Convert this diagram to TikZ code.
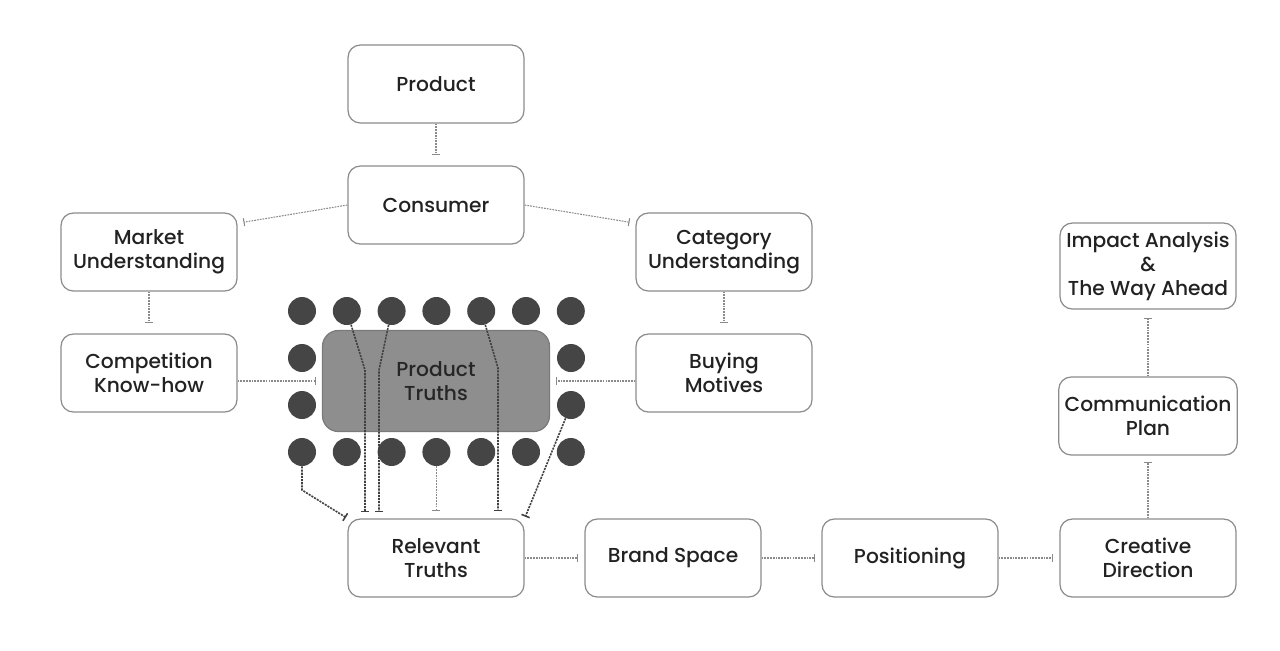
\documentclass[tikz,border=0pt]{standalone}
\usepackage{fontspec}
\setmainfont{Poppins}[UprightFont=* Medium]
\usetikzlibrary{arrows.meta}
\definecolor{boxline}{HTML}{8C8C8C}
\definecolor{textdark}{HTML}{222222}
\definecolor{dotgrey}{HTML}{454545}
\definecolor{truthfill}{HTML}{8E8E8E}
\definecolor{truthline}{HTML}{7A7A7A}
\definecolor{linkgrey}{HTML}{8A8A8A}
\tikzset{
  box/.style={draw=boxline, line width=0.7pt, rounded corners=7pt, minimum width=3.52cm,
    minimum height=1.56cm, align=center, text=textdark, font=\fontsize{11.5}{13.7}\selectfont},
  dot/.style={circle, fill=dotgrey, inner sep=0pt, minimum size=0.56cm},
  link/.style={draw=linkgrey, line width=0.6pt, dash pattern=on 1pt off 0.6pt, -{Bar[width=4.5pt]}},
  darklink/.style={draw=black!75, line width=0.9pt, dash pattern=on 1.2pt off 0.6pt, -{Bar[width=5pt]}}
}
\begin{document}
\begin{tikzpicture}[x=0.02cm, y=-0.02cm]
	\useasboundingbox (0,0) rectangle (1280,650);
	% boxes
	\node (prod) at (436,84) [box] {Product};
	\node (cons) at (436,205) [box] {Consumer};
	\node (mkt) at (149,252) [box] {Market\\Understanding};
	\node (cat) at (724,252) [box] {Category\\Understanding};
	\node (comp) at (149,373) [box] {Competition\\Know-how};
	\node (buy) at (724,373) [box] {Buying\\Motives};
	\node (truth) at (436,381) [box, fill=truthfill, draw=truthline, minimum width=4.54cm,
		minimum height=2.02cm, rounded corners=9pt, text=black!85] {Product\\Truths};
	\node (rel) at (436,558) [box] {Relevant\\Truths};
	\node (brand) at (673,558) [box] {Brand Space};
	\node (pos) at (910,558) [box] {Positioning};
	\node (crea) at (1148,558) [box] {Creative\\Direction};
	\node (plan) at (1148,416) [box] {Communication\\Plan};
	\node (imp) at (1148,266) [box, minimum height=1.72cm, inner sep=1pt] {Impact Analysis\\\&\\The Way Ahead};

	% dots round the truths
	\foreach \i in {1,...,7} {
		\node (t\i) at ({302+44.8*(\i-1)},311) [dot] {};
		\node (b\i) at ({302+44.8*(\i-1)},452) [dot] {};
	}
	\foreach \n/\y in {1/358, 2/405} {
		\node (l\n) at (302,\y) [dot] {};
		\node (r\n) at (571,\y) [dot] {};
	}

	% links
	\draw[link, shorten >=6pt] (prod) -- (cons);
	\draw[link, shorten >=3.4pt] (cons.west) -- (mkt.18);
	\draw[link, shorten >=3.4pt] (cons.east) -- (cat.162);
	\draw[link, shorten >=6pt] (mkt) -- (comp);
	\draw[link, shorten >=6pt] (cat) -- (buy);
	\draw[link, shorten >=3.4pt] (comp.east |- truth.west) -- (truth.west);
	\draw[link, shorten >=3.4pt] (buy.west |- truth.east) -- (truth.east);
	\draw[link, shorten >=3.4pt] (rel) -- (brand);
	\draw[link, shorten >=3.4pt] (brand) -- (pos);
	\draw[link, shorten >=3.4pt] (pos) -- (crea);
	\draw[link, shorten >=3.8pt] (crea) -- (plan);
	\draw[link, shorten >=4.5pt] (plan) -- (imp);

	% dots to relevant truths
	\coordinate (k1) at (302,490);
	\coordinate (k2) at (365,370);
	\coordinate (k3) at (379,370);
	\coordinate (k5) at (498,368);
	\draw[darklink, shorten >=1pt] (b1) -- (k1) -- (rel.north west);
	\draw[darklink, shorten >=3.4pt] (t2) -- (k2) -- (k2 |- rel.north);
	\draw[darklink, shorten >=3.4pt] (t3) -- (k3) -- (k3 |- rel.north);
	\draw[link, shorten >=4pt] (b4) -- (b4 |- rel.north);
	\draw[darklink, shorten >=4pt] (t5) -- (k5) -- (k5 |- rel.north);
	\draw[darklink, shorten >=1pt] (r2) -- (rel.north east);
\end{tikzpicture}
\end{document}
